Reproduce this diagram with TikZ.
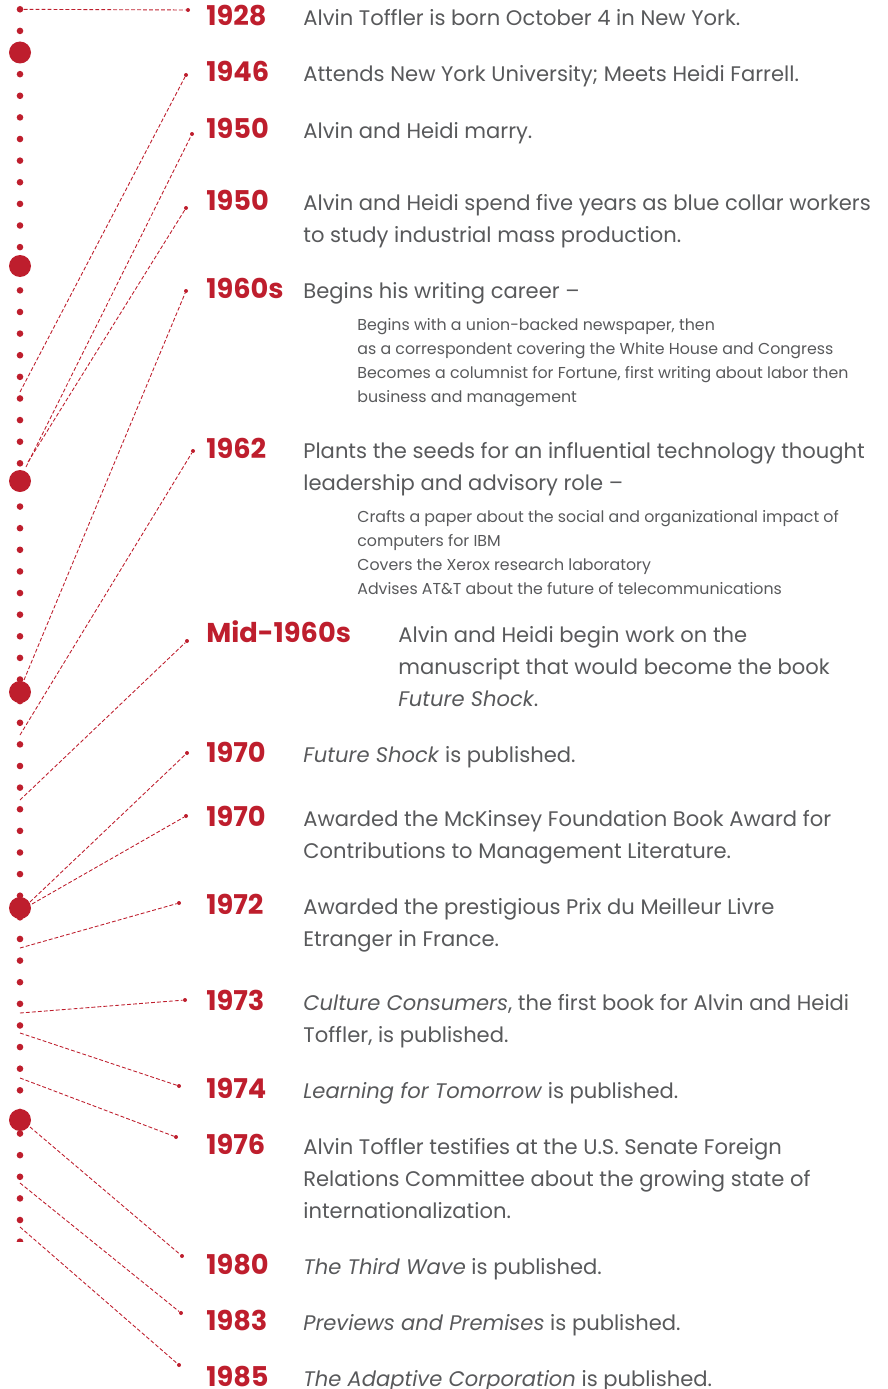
\documentclass[tikz,border=0pt]{standalone}
\usepackage{fontspec}
\setmainfont{Poppins}
\usepackage{xcolor}
\definecolor{tred}{HTML}{BE1E2D}
\definecolor{tgrey}{HTML}{58595B}
\begin{document}
\begin{tikzpicture}[x=0.02cm, y=-0.02cm,
    year/.style={anchor=base west, inner sep=0pt, text=tred, font=\fontsize{15.5}{18}\selectfont\bfseries},
    body/.style={anchor=base west, inner sep=0pt, align=left, text=tgrey, font=\fontsize{12}{18.14}\selectfont},
    sub/.style={anchor=base west, inner sep=0pt, align=left, text=tgrey, font=\fontsize{9}{13.6}\selectfont},
    dot/.style={circle, fill=tred, inner sep=0pt, minimum size=6.6*0.02cm},
    bigdot/.style={circle, fill=tred, inner sep=0pt, minimum size=22*0.02cm},
    tip/.style={circle, fill=tred, inner sep=0pt, minimum size=4*0.02cm},
    link/.style={tred, line width=0.5pt, dash pattern=on 2.2pt off 1.2pt}]
    \useasboundingbox (0,0) rectangle (887,1389);
    %draw the dotted time line
    \foreach \k in {0,...,56}
        \node[dot] (c\k) at (20, 9.3+21.62*\k) {};
    \begin{scope}
        \clip (10,1237) rectangle (30,1241);
        \fill[tred] (20,1241.6) circle (3.3);
    \end{scope}
    \foreach \y [count=\j] in {52.5, 266, 481, 692, 908, 1120}
        \node[bigdot] (b\j) at (20,\y) {};
    %free ends on the time line
    \coordinate (e1946) at (20,392);
    \coordinate (e1950) at (26,467);
    \coordinate (e1950b) at (28,462);
    \coordinate (e1960s) at (24,680);
    \coordinate (e1962) at (20,735);
    \coordinate (eMid) at (20,800);
    \coordinate (e1970) at (30,902);
    \coordinate (e1970b) at (32,904);
    \coordinate (e1972) at (20,948);
    \coordinate (e1973) at (20,1013);
    \coordinate (e1974) at (20,1033);
    \coordinate (e1976) at (20,1078);
    \coordinate (e1980) at (30,1127);
    \coordinate (e1983) at (20,1183);
    \coordinate (e1985) at (20,1227);
    %small dots next to the years
    \node[tip] (p1928) at (188,10) {};
    \node[tip] (p1946) at (186,75) {};
    \node[tip] (p1950) at (192,134) {};
    \node[tip] (p1950b) at (186,208) {};
    \node[tip] (p1960s) at (186,291) {};
    \node[tip] (p1962) at (193,451) {};
    \node[tip] (pMid) at (187,641) {};
    \node[tip] (p1970) at (187,753) {};
    \node[tip] (p1970b) at (186,816) {};
    \node[tip] (p1972) at (179,903) {};
    \node[tip] (p1973) at (185,1000) {};
    \node[tip] (p1974) at (179,1086) {};
    \node[tip] (p1976) at (176,1137) {};
    \node[tip] (p1980) at (182,1256) {};
    \node[tip] (p1983) at (181,1313) {};
    \node[tip] (p1985) at (179,1365) {};
    %draw the dashed connectors
    \draw[link] (c0) -- (p1928);
    \draw[link] (e1946) -- (p1946);
    \draw[link] (e1950) -- (p1950);
    \draw[link] (e1950b) -- (p1950b);
    \draw[link] (e1960s) -- (p1960s);
    \draw[link] (e1962) -- (p1962);
    \draw[link] (eMid) -- (pMid);
    \draw[link] (e1970) -- (p1970);
    \draw[link] (e1970b) -- (p1970b);
    \draw[link] (e1972) -- (p1972);
    \draw[link] (e1973) -- (p1973);
    \draw[link] (e1974) -- (p1974);
    \draw[link] (e1976) -- (p1976);
    \draw[link] (e1980) -- (p1980);
    \draw[link] (e1983) -- (p1983);
    \draw[link] (e1985) -- (p1985);
    %years
    \node[year] (y1928) at (206,26) {1928};
    \node[year] (y1946) at (206,82) {1946};
    \node[year] (y1950) at (206,138) {1950};
    \node[year] (y1950b) at (206,210) {1950};
    \node[year] (y1960s) at (206,298) {1960s};
    \node[year] (y1962) at (206,458) {1962};
    \node[year] (yMid) at (206,642) {Mid-1960s};
    \node[year] (y1970) at (206,762) {1970};
    \node[year] (y1970b) at (206,826) {1970};
    \node[year] (y1972) at (206,914) {1972};
    \node[year] (y1973) at (206,1010) {1973};
    \node[year] (y1974) at (206,1098) {1974};
    \node[year] (y1976) at (206,1154) {1976};
    \node[year] (y1980) at (206,1274) {1980};
    \node[year] (y1983) at (206,1330) {1983};
    \node[year] (y1985) at (206,1386) {1985};
    %what happened (a multi-line node sits on its last line)
    \node[body] (t1928) at (303,26) {Alvin Toffler is born October 4 in New York.};
    \node[body] (t1946) at (303,82) {Attends New York University; Meets Heidi Farrell.};
    \node[body] (t1950) at (303,138) {Alvin and Heidi marry.};
    \node[body] (t1950b) at (303,242) {Alvin and Heidi spend five years as blue collar workers\\to study industrial mass production.};
    \node[body] (t1960s) at (303,298) {Begins his writing career --};
    \node[sub] (s1960s) at (357,402) {Begins with a union-backed newspaper, then\\as a correspondent covering the White House and Congress\\Becomes a columnist for Fortune, first writing about labor then\\business and management};
    \node[body] (t1962) at (303,490) {Plants the seeds for an influential technology thought\\leadership and advisory role --};
    \node[sub] (s1962) at (357,594) {Crafts a paper about the social and organizational impact of\\computers for IBM\\Covers the Xerox research laboratory\\Advises AT\&T about the future of telecommunications};
    \node[body] (tMid) at (398,706) {Alvin and Heidi begin work on the\\manuscript that would become the book\\\textit{Future Shock}.};
    \node[body] (t1970) at (303,762) {\textit{Future Shock} is published.};
    \node[body] (t1970b) at (303,858) {Awarded the McKinsey Foundation Book Award for\\Contributions to Management Literature.};
    \node[body] (t1972) at (303,946) {Awarded the prestigious Prix du Meilleur Livre\\Etranger in France.};
    \node[body] (t1973) at (303,1042) {\textit{Culture Consumers}, the first book for Alvin and Heidi\\Toffler, is published.};
    \node[body] (t1974) at (303,1098) {\textit{Learning for Tomorrow} is published.};
    \node[body] (t1976) at (303,1218) {Alvin Toffler testifies at the U.S. Senate Foreign\\Relations Committee about the growing state of\\internationalization.};
    \node[body] (t1980) at (303,1274) {\textit{The Third Wave} is published.};
    \node[body] (t1983) at (303,1330) {\textit{Previews and Premises} is published.};
    \node[body] (t1985) at (303,1386) {\textit{The Adaptive Corporation} is published.};
\end{tikzpicture}
\end{document}
